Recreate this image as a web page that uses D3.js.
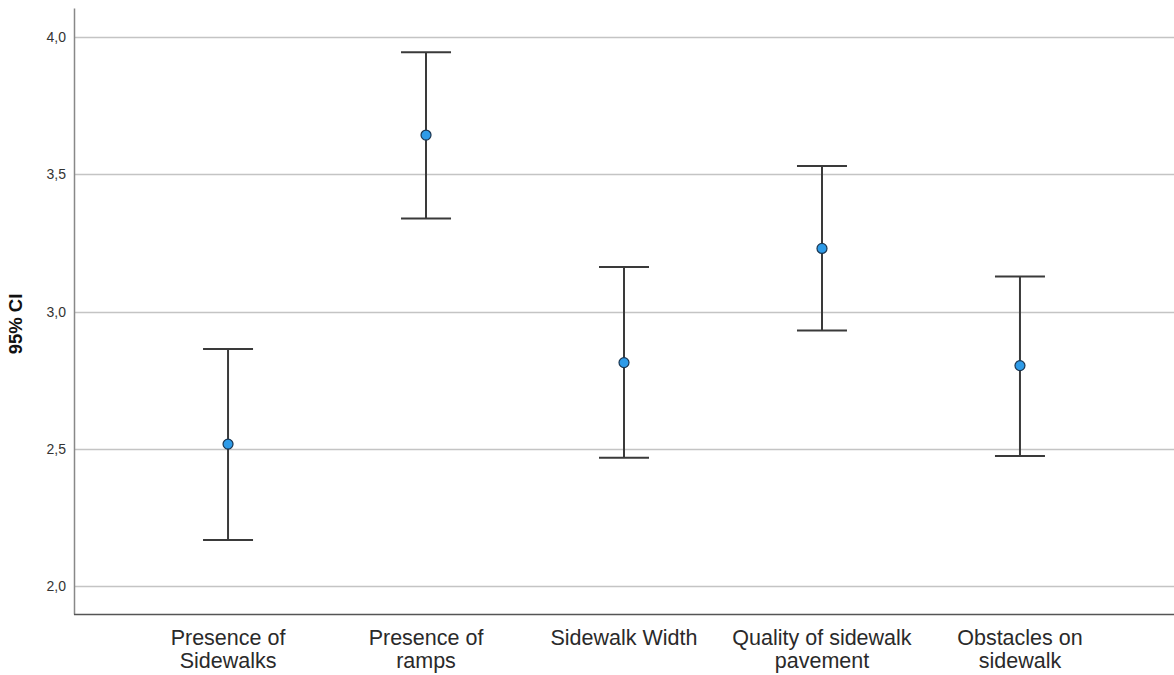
<!DOCTYPE html>
<html>
<head>
<meta charset="utf-8">
<script src="https://cdn.jsdelivr.net/npm/d3@7"></script>
<style>
  html, body { margin: 0; padding: 0; background: #fff; }
  svg { display: block; font-family: "Liberation Sans", Arial, sans-serif; }
</style>
</head>
<body>
<svg id="chart" width="1174" height="675"></svg>
<script>
// Sidewalk attributes and their mean with 95% confidence interval
const categories = [
  ["Presence of", "Sidewalks"],
  ["Presence of", "ramps"],
  ["Sidewalk Width"],
  ["Quality of sidewalk", "pavement"],
  ["Obstacles on", "sidewalk"]
];
const means = [2.517, 3.643, 2.814, 3.230, 2.803];
const lower = [2.168, 3.339, 2.467, 2.931, 2.474];
const upper = [2.864, 3.945, 3.162, 3.530, 3.128];
const yTicks = [2.0, 2.5, 3.0, 3.5, 4.0];
const yTitle = "95% CI";

const svg = d3.select("#chart");
const plotLeft = 74, plotRight = 1174, plotTop = 8, plotBottom = 614;

const x = d3.scalePoint()
  .domain(d3.range(categories.length))
  .range([plotLeft, plotRight])
  .padding(0.778);

const y = d3.scaleLinear()
  .domain([1.898, 4.106])
  .range([plotBottom, plotTop]);

// horizontal gridlines
svg.append("g")
  .selectAll("line")
  .data(yTicks)
  .join("line")
  .attr("x1", plotLeft).attr("x2", plotRight)
  .attr("y1", d => Math.round(y(d)) + 0.5)
  .attr("y2", d => Math.round(y(d)) + 0.5)
  .attr("stroke", "#c4c4c4")
  .attr("stroke-width", 1.5);

// y axis
const yAxis = svg.append("g")
  .attr("transform", `translate(${plotLeft},0)`)
  .call(d3.axisLeft(y).tickValues(yTicks).tickSize(0).tickPadding(8)
    .tickFormat(d => d3.format(".1f")(d).replace(".", ",")));
yAxis.select(".domain").attr("stroke", "#888").attr("stroke-width", 1.5);
yAxis.selectAll("text").attr("font-size", 14).attr("fill", "#333")
  .attr("font-family", "Liberation Sans, Arial, sans-serif");

// x axis
const xAxis = svg.append("g")
  .attr("transform", `translate(0,${plotBottom})`)
  .call(d3.axisBottom(x).tickSize(0).tickFormat(""));
xAxis.select(".domain").attr("stroke", "#555").attr("stroke-width", 1.5)
  .attr("d", `M${plotLeft},0.5H${plotRight}`);

// category labels (multi-line)
const labels = svg.append("g");
categories.forEach((lines, i) => {
  const t = labels.append("text")
    .attr("x", x(i))
    .attr("y", 645)
    .attr("text-anchor", "middle")
    .attr("font-size", 21.5)
    .attr("fill", "#2a2a2a");
  lines.forEach((ln, j) => {
    t.append("tspan").attr("x", x(i)).attr("dy", j === 0 ? 0 : 22.5).text(ln);
  });
});

// y title
svg.append("text")
  .attr("transform", "translate(22,324) rotate(-90)")
  .attr("text-anchor", "middle")
  .attr("font-size", 18.5)
  .attr("font-weight", "bold")
  .attr("fill", "#111")
  .text(yTitle);

// error bars
const capHalf = 25;
const bars = svg.append("g")
  .selectAll("g")
  .data(means.map((m, i) => ({ i, m, lo: lower[i], hi: upper[i] })))
  .join("g");

bars.append("line")
  .attr("x1", d => x(d.i)).attr("x2", d => x(d.i))
  .attr("y1", d => y(d.hi)).attr("y2", d => y(d.lo))
  .attr("stroke", "#3a3a3a").attr("stroke-width", 2);
bars.append("line")
  .attr("x1", d => x(d.i) - capHalf).attr("x2", d => x(d.i) + capHalf)
  .attr("y1", d => y(d.hi)).attr("y2", d => y(d.hi))
  .attr("stroke", "#3a3a3a").attr("stroke-width", 2);
bars.append("line")
  .attr("x1", d => x(d.i) - capHalf).attr("x2", d => x(d.i) + capHalf)
  .attr("y1", d => y(d.lo)).attr("y2", d => y(d.lo))
  .attr("stroke", "#3a3a3a").attr("stroke-width", 2);
bars.append("circle")
  .attr("cx", d => x(d.i)).attr("cy", d => y(d.m))
  .attr("r", 5)
  .attr("fill", "#2e9be8")
  .attr("stroke", "#1a3550")
  .attr("stroke-width", 1.2);
</script>
</body>
</html>
